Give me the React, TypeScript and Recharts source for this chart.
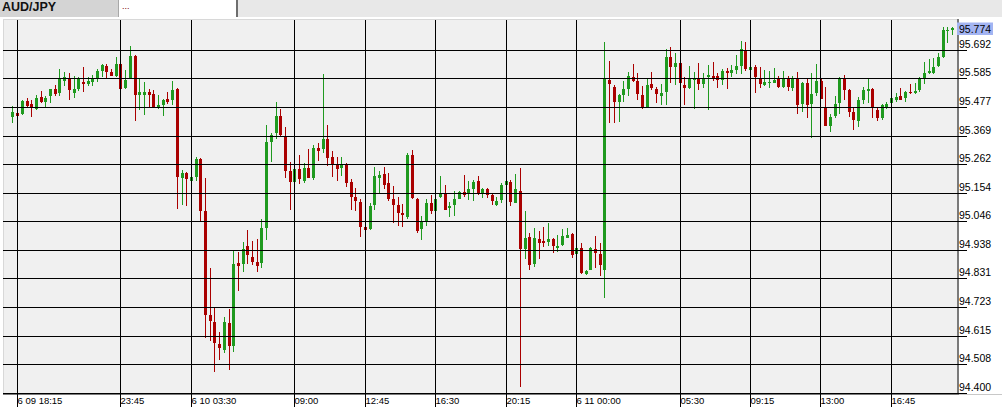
import { Bar, ComposedChart, XAxis, YAxis } from "recharts";

// 15 minute AUD/JPY bars, first bar 6/09 18:00
const opens = [
  95.439, 95.454, 95.451, 95.499, 95.488, 95.469, 95.514, 95.494, 95.519, 95.544,
  95.530, 95.575, 95.585, 95.530, 95.544, 95.572, 95.562, 95.572, 95.584, 95.612,
  95.631, 95.609, 95.594, 95.638, 95.548, 95.587, 95.670, 95.523, 95.523, 95.533,
  95.525, 95.471, 95.485, 95.506, 95.503, 95.544, 95.210, 95.229, 95.198, 95.214,
  95.282, 95.085, 94.693, 94.667, 94.585, 94.562, 94.663, 94.578, 94.889, 94.887,
  94.952, 94.910, 94.892, 94.888, 95.022, 95.343, 95.380, 95.441, 95.366, 95.235,
  95.195, 95.242, 95.199, 95.247, 95.209, 95.323, 95.319, 95.356, 95.288, 95.257,
  95.245, 95.258, 95.193, 95.138, 95.119, 95.025, 95.017, 95.109, 95.210, 95.224,
  95.190, 95.130, 95.107, 95.078, 95.064, 95.296, 95.130, 95.016, 95.046, 95.115,
  95.086, 95.138, 95.151, 95.097, 95.107, 95.130, 95.156, 95.150, 95.168, 95.198,
  95.151, 95.168, 95.146, 95.107, 95.126, 95.183, 95.194, 95.116, 95.160, 94.943,
  94.986, 94.884, 94.979, 94.973, 94.968, 94.979, 94.946, 94.957, 94.983, 94.999,
  94.925, 94.946, 94.846, 94.864, 94.941, 94.925, 94.864, 95.578, 95.552, 95.496,
  95.523, 95.544, 95.588, 95.574, 95.523, 95.471, 95.562, 95.544, 95.516, 95.534,
  95.663, 95.628, 95.642, 95.559, 95.547, 95.578, 95.584, 95.562, 95.588, 95.594,
  95.593, 95.578, 95.613, 95.603, 95.616, 95.632, 95.691, 95.616, 95.628, 95.584,
  95.558, 95.565, 95.567, 95.580, 95.550, 95.580, 95.549, 95.580, 95.488, 95.568,
  95.488, 95.528, 95.575, 95.471, 95.406, 95.444, 95.490, 95.583, 95.540, 95.456,
  95.425, 95.503, 95.537, 95.544, 95.465, 95.434, 95.475, 95.490, 95.503, 95.518,
  95.511, 95.534, 95.528, 95.540, 95.580, 95.603, 95.606, 95.631, 95.666, 95.764,
  95.765,
];

const highs = [
  95.480, 95.456, 95.503, 95.510, 95.503, 95.520, 95.537, 95.519, 95.545, 95.558,
  95.619, 95.607, 95.606, 95.593, 95.590, 95.627, 95.588, 95.597, 95.621, 95.639,
  95.638, 95.621, 95.664, 95.641, 95.616, 95.706, 95.672, 95.584, 95.570, 95.543,
  95.540, 95.521, 95.505, 95.534, 95.574, 95.546, 95.239, 95.233, 95.217, 95.289,
  95.284, 95.208, 94.872, 94.725, 94.631, 94.687, 94.718, 94.938, 94.932, 94.968,
  95.013, 94.972, 94.979, 95.055, 95.409, 95.377, 95.496, 95.468, 95.400, 95.268,
  95.287, 95.296, 95.267, 95.318, 95.335, 95.340, 95.600, 95.409, 95.311, 95.289,
  95.289, 95.264, 95.205, 95.173, 95.130, 95.036, 95.116, 95.252, 95.237, 95.252,
  95.227, 95.178, 95.139, 95.110, 95.302, 95.316, 95.135, 95.066, 95.129, 95.145,
  95.158, 95.217, 95.183, 95.120, 95.159, 95.159, 95.220, 95.198, 95.202, 95.217,
  95.170, 95.170, 95.151, 95.139, 95.190, 95.208, 95.202, 95.224, 95.248, 95.086,
  95.002, 95.022, 95.010, 95.025, 95.041, 94.982, 94.994, 95.016, 95.020, 95.003,
  94.951, 94.966, 94.862, 94.950, 94.991, 94.963, 95.720, 95.651, 95.559, 95.525,
  95.574, 95.607, 95.639, 95.606, 95.557, 95.584, 95.608, 95.553, 95.562, 95.693,
  95.703, 95.678, 95.710, 95.590, 95.632, 95.609, 95.641, 95.603, 95.633, 95.647,
  95.606, 95.618, 95.622, 95.634, 95.672, 95.725, 95.720, 95.631, 95.634, 95.628,
  95.616, 95.613, 95.622, 95.593, 95.612, 95.593, 95.593, 95.609, 95.572, 95.584,
  95.606, 95.639, 95.580, 95.550, 95.449, 95.518, 95.588, 95.597, 95.544, 95.475,
  95.513, 95.553, 95.580, 95.547, 95.478, 95.486, 95.496, 95.515, 95.528, 95.547,
  95.538, 95.563, 95.565, 95.588, 95.647, 95.657, 95.662, 95.681, 95.779, 95.776,
  95.776,
];

const lows = [
  95.417, 95.441, 95.447, 95.471, 95.440, 95.465, 95.493, 95.475, 95.493, 95.518,
  95.519, 95.553, 95.503, 95.511, 95.538, 95.534, 95.553, 95.555, 95.573, 95.590,
  95.580, 95.593, 95.590, 95.543, 95.544, 95.584, 95.425, 95.465, 95.447, 95.475,
  95.474, 95.470, 95.440, 95.490, 95.484, 95.092, 95.107, 95.105, 95.107, 95.199,
  95.043, 94.606, 94.599, 94.481, 94.525, 94.552, 94.489, 94.555, 94.787, 94.854,
  94.884, 94.882, 94.856, 94.869, 94.976, 95.267, 95.355, 95.362, 95.209, 95.089,
  95.189, 95.185, 95.190, 95.209, 95.205, 95.272, 95.304, 95.255, 95.214, 95.198,
  95.218, 95.173, 95.089, 95.086, 94.988, 94.982, 95.016, 95.092, 95.151, 95.170,
  95.122, 95.038, 95.028, 95.022, 95.055, 95.133, 95.005, 94.977, 95.026, 95.074,
  95.082, 95.135, 95.089, 95.064, 95.066, 95.129, 95.139, 95.126, 95.124, 95.145,
  95.133, 95.133, 95.104, 95.106, 95.116, 95.181, 95.105, 95.114, 94.424, 94.905,
  94.863, 94.875, 94.905, 94.951, 94.953, 94.925, 94.929, 94.953, 94.981, 94.910,
  94.869, 94.848, 94.844, 94.863, 94.869, 94.838, 94.756, 95.417, 95.417, 95.421,
  95.494, 95.515, 95.573, 95.505, 95.469, 95.470, 95.540, 95.493, 95.484, 95.481,
  95.569, 95.559, 95.496, 95.484, 95.544, 95.468, 95.540, 95.547, 95.465, 95.574,
  95.550, 95.559, 95.544, 95.587, 95.600, 95.599, 95.609, 95.521, 95.528, 95.549,
  95.555, 95.550, 95.565, 95.549, 95.547, 95.538, 95.538, 95.451, 95.459, 95.434,
  95.362, 95.519, 95.503, 95.405, 95.381, 95.437, 95.450, 95.503, 95.440, 95.387,
  95.400, 95.488, 95.490, 95.434, 95.427, 95.427, 95.468, 95.459, 95.494, 95.501,
  95.496, 95.525, 95.525, 95.531, 95.565, 95.600, 95.603, 95.628, 95.663, 95.716,
  95.747,
];

const closes = [
  95.456, 95.444, 95.499, 95.480, 95.471, 95.509, 95.496, 95.511, 95.543, 95.525,
  95.584, 95.589, 95.540, 95.543, 95.582, 95.562, 95.575, 95.585, 95.612, 95.633,
  95.609, 95.594, 95.638, 95.545, 95.578, 95.670, 95.523, 95.533, 95.533, 95.523,
  95.475, 95.484, 95.503, 95.495, 95.540, 95.214, 95.227, 95.204, 95.213, 95.282,
  95.086, 94.695, 94.672, 94.587, 94.568, 94.666, 94.578, 94.885, 94.879, 94.941,
  94.918, 94.894, 94.878, 95.020, 95.345, 95.370, 95.441, 95.370, 95.237, 95.195,
  95.242, 95.204, 95.245, 95.210, 95.322, 95.312, 95.356, 95.286, 95.257, 95.244,
  95.258, 95.191, 95.139, 95.122, 95.026, 95.013, 95.104, 95.217, 95.222, 95.184,
  95.130, 95.107, 95.078, 95.070, 95.296, 95.135, 95.011, 95.047, 95.115, 95.086,
  95.130, 95.154, 95.090, 95.105, 95.130, 95.156, 95.145, 95.166, 95.194, 95.151,
  95.168, 95.145, 95.124, 95.122, 95.183, 95.199, 95.120, 95.168, 94.943, 94.982,
  94.880, 94.984, 94.966, 94.966, 94.979, 94.954, 94.953, 94.992, 94.994, 94.919,
  94.946, 94.850, 94.859, 94.946, 94.928, 94.883, 95.580, 95.562, 95.496, 95.523,
  95.544, 95.593, 95.575, 95.524, 95.471, 95.558, 95.547, 95.525, 95.529, 95.663,
  95.626, 95.643, 95.565, 95.547, 95.583, 95.585, 95.562, 95.587, 95.597, 95.584,
  95.577, 95.613, 95.603, 95.616, 95.632, 95.693, 95.619, 95.627, 95.590, 95.562,
  95.572, 95.572, 95.578, 95.550, 95.580, 95.553, 95.580, 95.484, 95.568, 95.484,
  95.525, 95.574, 95.506, 95.406, 95.437, 95.488, 95.582, 95.540, 95.459, 95.427,
  95.503, 95.540, 95.545, 95.471, 95.435, 95.484, 95.488, 95.509, 95.515, 95.503,
  95.533, 95.528, 95.538, 95.584, 95.606, 95.613, 95.628, 95.666, 95.766, 95.767,
  95.774,
];

const firstBar = { month: 6, day: 9, hour: 18, minute: 0 };
const barMinutes = 15;

const priceTicks = [
  94.4, 94.508, 94.615, 94.723, 94.831, 94.938, 95.046, 95.154, 95.262, 95.369, 95.477, 95.585, 95.692,
];
const tickTimes = [
  "6 09 18:15", "6 09 23:45", "6 10 03:30", "6 10 09:00", "6 10 12:45", "6 10 16:30",
  "6 10 20:15", "6 11 00:00", "6 11 05:30", "6 11 09:15", "6 11 13:00", "6 11 16:45",
];
const tickLabels = [
  "6 09 18:15", "23:45", "6 10 03:30", "09:00", "12:45", "16:30",
  "20:15", "6 11 00:00", "05:30", "09:15", "13:00", "16:45",
];

const UP = "#1f9a1f";
const DOWN = "#aa0000";
const FONT = "'Liberation Sans', Arial, sans-serif";

const pad = (n: number) => String(n).padStart(2, "0");

const bars = opens.map((open, i) => {
  const total = firstBar.hour * 60 + firstBar.minute + i * barMinutes;
  const day = firstBar.day + Math.floor(total / 1440);
  const m = total % 1440;
  return {
    time: `${firstBar.month} ${pad(day)} ${pad(Math.floor(m / 60))}:${pad(m % 60)}`,
    open,
    high: highs[i],
    low: lows[i],
    close: closes[i],
  };
});

const lastClose = closes[closes.length - 1];

function Candle(props: any) {
  const { x, y, width, height, payload } = props;
  if (x == null || y == null) return null;
  const { open, close, high, low } = payload;
  const top = Math.min(y, y + height);
  const h = Math.abs(height);
  const per = h / (high - low || 1);
  const yOf = (p: number) => top + (high - p) * per;
  const col = Math.round(x + width / 2);
  const colour = close >= open ? UP : DOWN;
  const bTop = Math.round(yOf(Math.max(open, close)));
  const bBot = Math.round(yOf(Math.min(open, close)));
  return (
    <g>
      <rect x={col} y={Math.round(top)} width={1} height={Math.max(1, Math.round(h))} fill={colour} />
      <rect x={col - 1} y={bTop} width={3} height={Math.max(1, bBot - bTop)} fill={colour} />
    </g>
  );
}

function PriceTick(props: any) {
  const { y, payload } = props;
  const yy = Math.round(y) + 0.5;
  if (payload.value === lastClose) {
    return (
      <g>
        <rect x={957} y={yy - 6} width={36} height={12.5} fill="#a3b4f2" />
        <text x={959} y={yy + 4} fontSize={10.5} fontFamily={FONT} fill="#000">{payload.value.toFixed(3)}</text>
      </g>
    );
  }
  return (
    <g>
      <line x1={3} x2={967} y1={yy} y2={yy} stroke="#000" strokeWidth={1} />
      <text x={959} y={yy - 3} fontSize={10.5} fontFamily={FONT} fill="#000">{payload.value.toFixed(3)}</text>
    </g>
  );
}

function TimeTick(props: any) {
  const { x, payload } = props;
  const k = tickTimes.indexOf(payload.value);
  if (k < 0) return <g />;
  const xx = Math.round(x) + 0.5;
  return (
    <g>
      <line x1={xx} x2={xx} y1={20} y2={407} stroke="#000" strokeWidth={1} />
      <text x={xx} y={404} fontSize={9.5} fontFamily={FONT} fill="#000">{tickLabels[k]}</text>
    </g>
  );
}

export default function App() {
  return (
    <div style={{ position: "absolute", left: 0, top: 0, width: 1002, height: 416, background: "#fff", overflow: "hidden", fontFamily: FONT }}>
      <div style={{ position: "absolute", left: 0, top: 0, width: 1002, height: 17, background: "#e8e8e8" }} />
      <div style={{ position: "absolute", left: 0, top: 0, width: 118, height: 17, background: "#d4d4d4", fontWeight: "bold", fontSize: 12.5, lineHeight: "14px", paddingLeft: 2, boxSizing: "border-box", color: "#111" }}>
        AUD/JPY
      </div>
      <div style={{ position: "absolute", left: 118, top: 0, width: 120, height: 17, background: "#fff", borderLeft: "1px solid #a8a8a8", borderRight: "2px solid #6e6e6e", boxSizing: "border-box", fontSize: 9, lineHeight: "13px", paddingLeft: 3, color: "#800000" }}>
        ...
      </div>
      <div style={{ position: "absolute", left: 3, top: 19, width: 955, height: 375, background: "#f0f0f0", borderTop: "1px solid #d8d8d8", borderLeft: "1px solid #d8d8d8", boxSizing: "border-box" }} />
      <div style={{ position: "absolute", left: 957, top: 19, width: 2, height: 376, background: "#7a7a7a" }} />
      <div style={{ position: "absolute", left: 3, top: 394, width: 956, height: 1, background: "#7a7a7a" }} />
      <div style={{ position: "absolute", left: 959, top: 394, width: 43, height: 1, background: "#c8c8c8" }} />
      <div style={{ position: "absolute", left: 0, top: 0 }}>
        <ComposedChart width={1002} height={416} data={bars} margin={{ top: 21, right: 0, bottom: 3, left: 9.95 }}>
          <XAxis dataKey="time" height={20} interval={0} tick={TimeTick} tickLine={false} axisLine={false} />
          <YAxis
            orientation="right"
            width={47.6}
            type="number"
            domain={[94.4, 95.8]}
            ticks={[...priceTicks, lastClose]}
            interval={0}
            allowDataOverflow
            tick={PriceTick}
            tickLine={false}
            axisLine={false}
          />
          <Bar dataKey={(d: any) => [d.low, d.high]} shape={Candle} isAnimationActive={false} />
        </ComposedChart>
      </div>
    </div>
  );
}
